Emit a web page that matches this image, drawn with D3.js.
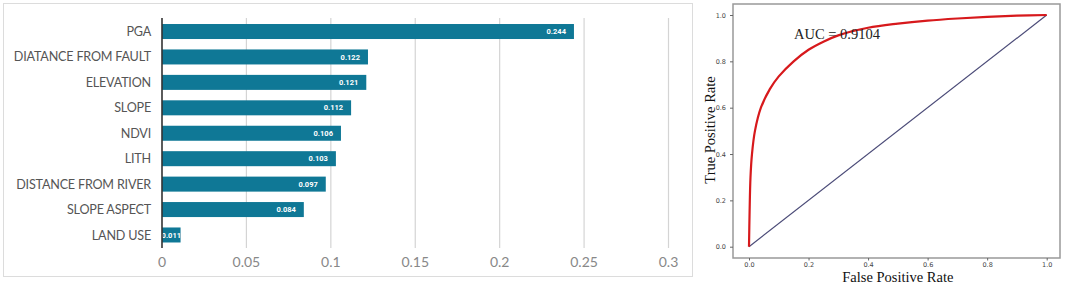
<!DOCTYPE html>
<html>
<head>
<meta charset="utf-8">
<script src="https://cdn.jsdelivr.net/npm/d3@7"></script>
<style>
  body { margin: 0; background: #fff; }
  svg { display: block; }
</style>
</head>
<body>
<svg id="chart" width="1065" height="286"></svg>
<script>
// feature importance (left panel)
const factors = ['PGA', 'DIATANCE FROM FAULT', 'ELEVATION', 'SLOPE', 'NDVI', 'LITH',
  'DISTANCE FROM RIVER', 'SLOPE ASPECT', 'LAND USE'];
const importance = [0.244, 0.122, 0.121, 0.112, 0.106, 0.103, 0.097, 0.084, 0.011];
const impTicks = [0, 0.05, 0.1, 0.15, 0.2, 0.25, 0.3];

// ROC curve (right panel)
const fpr = [0, 0.002, 0.005, 0.01, 0.02, 0.04, 0.07, 0.10, 0.15, 0.20, 0.25, 0.30,
  0.40, 0.50, 0.60, 0.70, 0.80, 0.90, 1.0];
const tpr = [0, 0.15, 0.30, 0.40, 0.50, 0.60, 0.68, 0.735, 0.80, 0.85, 0.885, 0.912,
  0.945, 0.963, 0.976, 0.985, 0.992, 0.997, 1.0];
const rocTicks = [0, 0.2, 0.4, 0.6, 0.8, 1.0];
const aucLabel = 'AUC = 0.9104';

const svg = d3.select('#chart');

// ---- left panel: bar chart ----
svg.append('rect')
  .attr('x', 3.5).attr('y', 3.5)
  .attr('width', 689).attr('height', 273)
  .attr('fill', 'none')
  .attr('stroke', '#dcdcdc');

const x = d3.scaleLinear().domain([0, 0.3]).range([162, 668.5]);
const y = d3.scaleBand().domain(factors).range([18.8, 247.7]).paddingInner(0.41).paddingOuter(0.205);

const bars = svg.append('g');

// gridlines
bars.selectAll('line.grid')
  .data(impTicks.slice(1))
  .enter().append('line')
  .attr('class', 'grid')
  .attr('x1', d => x(d)).attr('x2', d => x(d))
  .attr('y1', 18).attr('y2', 248)
  .attr('stroke', '#d4d4d4')
  .attr('stroke-width', 1.2);

bars.selectAll('rect.bar')
  .data(importance)
  .enter().append('rect')
  .attr('class', 'bar')
  .attr('x', x(0))
  .attr('y', (d, i) => y(factors[i]))
  .attr('width', d => x(d) - x(0))
  .attr('height', y.bandwidth())
  .attr('fill', '#0f7896');

bars.selectAll('text.val')
  .data(importance)
  .enter().append('text')
  .attr('class', 'val')
  .attr('x', d => Math.max(x(d) - 8, x(0) + 19))
  .attr('y', (d, i) => y(factors[i]) + y.bandwidth() / 2)
  .attr('dy', '0.35em')
  .attr('text-anchor', 'end')
  .attr('font-family', 'Roboto, sans-serif')
  .attr('font-weight', 'bold')
  .attr('font-size', 7.5)
  .attr('fill', '#fff')
  .text(d => d.toFixed(3));

// category labels
bars.selectAll('text.cat')
  .data(factors)
  .enter().append('text')
  .attr('class', 'cat')
  .attr('x', 151)
  .attr('y', d => y(d) + y.bandwidth() / 2)
  .attr('dy', '0.36em')
  .attr('text-anchor', 'end')
  .attr('font-family', 'Lato, sans-serif')
  .attr('font-size', 12.6)
  .attr('letter-spacing', -0.2)
  .attr('fill', '#555')
  .text(d => d);

// x tick labels
bars.selectAll('text.tick')
  .data(impTicks)
  .enter().append('text')
  .attr('class', 'tick')
  .attr('x', d => x(d))
  .attr('y', 267)
  .attr('text-anchor', 'middle')
  .attr('font-family', 'Lato, sans-serif')
  .attr('font-size', 14)
  .attr('fill', '#888')
  .text(d => d);

// axis line
bars.append('line')
  .attr('x1', x(0)).attr('x2', x(0))
  .attr('y1', 18).attr('y2', 248)
  .attr('stroke', '#333')
  .attr('stroke-width', 1.6);

// ---- right panel: ROC ----
const rx = d3.scaleLinear().domain([0, 1]).range([749, 1046.7]);
const ry = d3.scaleLinear().domain([0, 1]).range([246.7, 15]);

const roc = svg.append('g');

roc.append('rect')
  .attr('x', 733).attr('y', 4)
  .attr('width', 327).attr('height', 254)
  .attr('fill', 'none')
  .attr('stroke', '#999')
  .attr('stroke-width', 1.5);

roc.append('g')
  .attr('transform', 'translate(0,258)')
  .call(d3.axisBottom(rx).tickValues(rocTicks).tickSize(2.5).tickPadding(1.5).tickFormat(d3.format('.1f')))
  .call(g => g.select('.domain').remove())
  .call(g => g.selectAll('line').attr('stroke', '#666'))
  .call(g => g.selectAll('text').attr('font-size', 6.5).attr('fill', '#444')
    .attr('font-family', 'DejaVu Sans, sans-serif'));

roc.append('g')
  .attr('transform', 'translate(733,0)')
  .call(d3.axisLeft(ry).tickValues(rocTicks).tickSize(3).tickPadding(4).tickFormat(d3.format('.1f')))
  .call(g => g.select('.domain').remove())
  .call(g => g.selectAll('line').attr('stroke', '#666'))
  .call(g => g.selectAll('text').attr('font-size', 6.5).attr('fill', '#444')
    .attr('font-family', 'DejaVu Sans, sans-serif'));

// chance line
roc.append('line')
  .attr('x1', rx(0)).attr('y1', ry(0))
  .attr('x2', rx(1)).attr('y2', ry(1))
  .attr('stroke', '#4b4b78')
  .attr('stroke-width', 1.2);

const line = d3.line()
  .x((d, i) => rx(fpr[i]))
  .y(d => ry(d))
  .curve(d3.curveCatmullRom.alpha(0.5));

roc.append('path')
  .datum(tpr)
  .attr('d', line)
  .attr('fill', 'none')
  .attr('stroke', '#d7191c')
  .attr('stroke-width', 2.2);

roc.append('text')
  .attr('x', 794).attr('y', 39)
  .attr('font-family', 'Liberation Serif, serif')
  .attr('font-size', 14.5)
  .attr('fill', '#222')
  .text(aucLabel);

roc.append('text')
  .attr('x', (rx(0) + rx(1)) / 2).attr('y', 282)
  .attr('text-anchor', 'middle')
  .attr('font-family', 'Liberation Serif, serif')
  .attr('font-size', 14.5)
  .attr('fill', '#111')
  .text('False Positive Rate');

roc.append('text')
  .attr('transform', 'translate(715,130) rotate(-90)')
  .attr('text-anchor', 'middle')
  .attr('font-family', 'Liberation Serif, serif')
  .attr('font-size', 14.5)
  .attr('fill', '#111')
  .text('True Positive Rate');
</script>
</body>
</html>
